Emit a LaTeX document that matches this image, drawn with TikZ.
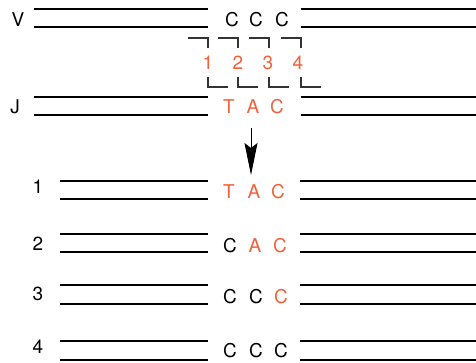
\documentclass[tikz,border=0pt]{standalone}
\usepackage{fontspec}
\setmainfont{TeX Gyre Heros}
\usetikzlibrary{arrows.meta}

\begin{document}
\begin{tikzpicture}[x=1pt, y=-1pt,
    strand/.style={line width=2pt},
    bracket/.style={line width=1.3pt, draw=bracketColour},
    base/.style={anchor=base, inner sep=0pt, font=\fontsize{19}{22}\selectfont}]
    \def\leftEnd{208}
    \def\rightStart{301}

    \definecolor{redColour}{HTML}{F2603C}
    \definecolor{bracketColour}{HTML}{333333}

    \useasboundingbox (0,0) rectangle (476,362);

    % Draw V and J strands
    \foreach \ya/\yb in {9/27, 97/115} {
        \draw[strand] (34,\ya) -- (\leftEnd,\ya);
        \draw[strand] (34,\yb) -- (\leftEnd,\yb);
        \draw[strand] (\rightStart,\ya) -- (476,\ya);
        \draw[strand] (\rightStart,\yb) -- (476,\yb);
    }
    \node[base] (labV) at (18,26) {V};
    \node[base] (labJ) at (15,113) {J};

    % Bases of V and J
    \foreach \x [count=\i] in {232,256,282}
        \node[base] (v\i) at (\x,26) {C};
    \node[base, text=redColour] (j1) at (229,113) {T};
    \node[base, text=redColour] (j2) at (253,113) {A};
    \node[base, text=redColour] (j3) at (277,113) {C};

    % Cut sites 1 to 4
    \foreach \x [count=\i] in {208,238,269,301} {
        \draw[bracket] (\x-20,38) -- (\x,38) -- (\x,48);
        \draw[bracket] (\x,77) -- (\x,87) -- (\x+20,87);
    }
    \foreach \x [count=\i] in {208,238,268,298}
        \node[base, text=redColour] (cut\i) at (\x,69) {\i};

    % Arrow to the products
    \coordinate (arrTop) at (251,128);
    \coordinate (arrTip) at (251,175);
    \draw[line width=1pt, -{Stealth[length=32pt, width=13pt, inset=5pt]}] (arrTop) -- (arrTip);

    % Products 1 to 4
    \foreach \row/\ya/\yb/\lab/\bs in {1/181/199/193/198, 2/234/252/250/252, 3/285/304/300/303, 4/341/360/353/357} {
        \draw[strand] (60,\ya) -- (\leftEnd,\ya);
        \draw[strand] (60,\yb) -- (\leftEnd,\yb);
        \draw[strand] (300,\ya) -- (476,\ya);
        \draw[strand] (300,\yb) -- (476,\yb);
        \node[base] (lab\row) at (38,\lab) {\row};
    }

    \node[base, text=redColour] (p1a) at (229,198) {T};
    \node[base, text=redColour] (p1b) at (254,198) {A};
    \node[base, text=redColour] (p1c) at (278,198) {C};

    \node[base] (p2a) at (230,252) {C};
    \node[base, text=redColour] (p2b) at (255,252) {A};
    \node[base, text=redColour] (p2c) at (280,252) {C};

    \node[base] (p3a) at (230,303) {C};
    \node[base] (p3b) at (256,303) {C};
    \node[base, text=redColour] (p3c) at (281,303) {C};

    \node[base] (p4a) at (230,357) {C};
    \node[base] (p4b) at (256,357) {C};
    \node[base] (p4c) at (281,357) {C};

\end{tikzpicture}
\end{document}
